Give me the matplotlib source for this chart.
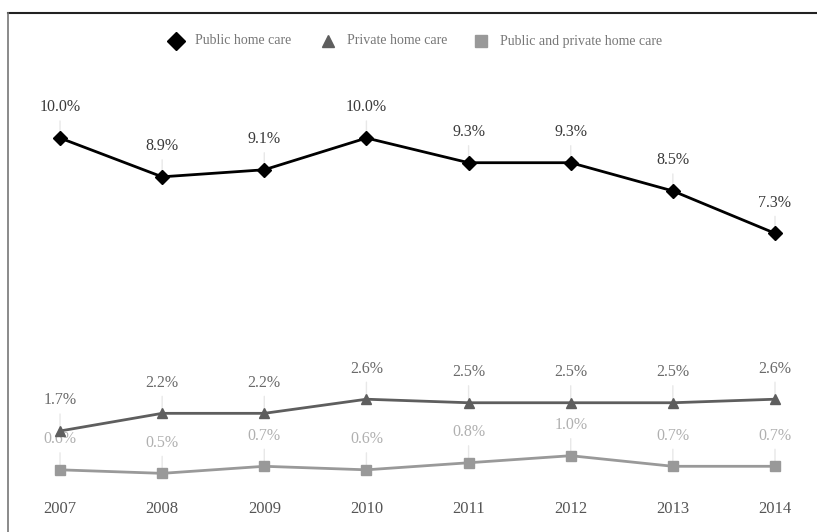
import matplotlib.pyplot as plt
from matplotlib.lines import Line2D

years = ['2007', '2008', '2009', '2010', '2011', '2012', '2013', '2014']
public = [10.0, 8.9, 9.1, 10.0, 9.3, 9.3, 8.5, 7.3]
private = [1.7, 2.2, 2.2, 2.6, 2.5, 2.5, 2.5, 2.6]
both = [0.6, 0.5, 0.7, 0.6, 0.8, 1.0, 0.7, 0.7]

plt.rcParams['font.family'] = ['Liberation Serif', 'DejaVu Serif']

W, H = 817, 532
fig = plt.figure(figsize=(W / 100, H / 100), dpi=100)
ax = fig.add_axes([0, 0, 1, 1])
ax.set_axis_off()

x = list(range(len(years)))
px_year = 102.14
ax.set_xlim(-60 / px_year, 7 + 42 / px_year)
ax.set_ylim(-41 / 35.3, (H - 41) / 35.3)

series = [
    (public, 'Public home care', 'D', 7.5, '#000000', '#3a3a3a'),
    (private, 'Private home care', '^', 7, '#5e5e5e', '#6a6a6a'),
    (both, 'Public and private home care', 's', 6.5, '#999999', '#b0b0b0'),
]

for vals, name, mk, ms, col, tcol in series:
    ax.plot(x, vals, color=col, lw=2.0, marker=mk, ms=ms, zorder=3)
    for xi, v in zip(x, vals):
        ax.annotate(f'{v:.1f}%', xy=(xi, v), xytext=(0, 22), textcoords='offset points',
                    ha='center', va='center', fontsize=11.5, color=tcol,
                    arrowprops=dict(arrowstyle='-', color='#e8e8e8', lw=1,
                                    shrinkA=2, shrinkB=0),
                    zorder=2)

for xi, yr in zip(x, years):
    ax.text(xi, -0.51, yr, ha='center', va='center', fontsize=12, color='#555555')

# legend row along the top
leg_y = 1 - 41 / H
leg_x = [176, 328, 481]
for (vals, name, mk, ms, col, tcol), lx in zip(series, leg_x):
    fig.add_artist(Line2D([lx / W], [leg_y], marker=mk, ms=ms + 1.5, color=col,
                          linestyle='none', transform=fig.transFigure))
    fig.text((lx + 19) / W, leg_y, name, ha='left', va='center', fontsize=10,
             color='#777777')

# frame: dark top rule and grey left rule
fig.add_artist(Line2D([8 / W, 1], [1 - 13 / H, 1 - 13 / H], color='#222222', lw=1.5,
                      transform=fig.transFigure))
fig.add_artist(Line2D([8 / W, 8 / W], [0, 1 - 13 / H], color='#777777', lw=1.2,
                      transform=fig.transFigure))

fig.savefig('out.png', dpi=100)
